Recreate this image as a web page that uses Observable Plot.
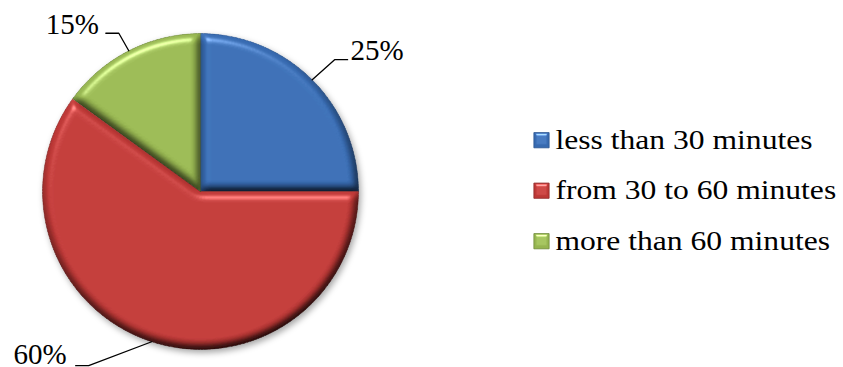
<!DOCTYPE html>
<html><head><meta charset="utf-8">
<script src="https://cdn.jsdelivr.net/npm/d3@7"></script>
<script src="https://cdn.jsdelivr.net/npm/@observablehq/plot@0.6"></script>
<style>body{margin:0;background:#fff}</style>
</head><body><div id="chart"></div>
<script>
const categories = ["less than 30 minutes", "from 30 to 60 minutes", "more than 60 minutes"];
const values = [25, 60, 15];
const valueLabels = ["25%", "60%", "15%"];
const colors = ["#376AB0", "#BD3836", "#96B550"];
const strokeColors = ["#2B5590", "#8E2A28", "#6E8A38"];

// layout (not data)
const W = 843, H = 367, CX = 200, CY = 191, R = 158;
const FONT = "Liberation Serif, Times New Roman, serif";
const labelLayout = [
  {f: 1.19, da: 0.5, dir: 1, gap: 3, dy: -9},
  {f: 1.31, da: 14.7, dir: -1, gap: 9, dy: -11},
  {f: 1.127, da: -0.3, dir: -1, gap: 7, dy: -9}
];
const legendX = 541, legendTextX = 555, legendY0 = 139.7, legendStep = 50.5;

const total = d3.sum(values);
let acc = 0;
const slices = categories.map((c, i) => {
  const a0 = acc / total * 2 * Math.PI; acc += values[i];
  const a1 = acc / total * 2 * Math.PI;
  return {cat: c, i, value: values[i], label: valueLabels[i], a0, a1, mid: (a0 + a1) / 2};
});
const polar = (a, r) => [CX + r * Math.sin(a), CY - r * Math.cos(a)];

const slicePts = slices.flatMap(s => {
  const pts = [{cat: s.cat, x: CX, y: CY}];
  const n = Math.max(2, Math.ceil((s.a1 - s.a0) / (Math.PI / 180)));
  for (let k = 0; k <= n; k++) {
    const [x, y] = polar(s.a0 + (s.a1 - s.a0) * k / n, R);
    pts.push({cat: s.cat, x, y});
  }
  return pts;
});

const leaderPts = [], labelPts = [];
slices.forEach(s => {
  const L = labelLayout[s.i];
  const [ex, ey] = polar(s.mid, R);
  const [bx, by] = polar(s.mid + L.da * Math.PI / 180, R * L.f);
  const endX = bx + L.dir * 13;
  leaderPts.push({cat: s.cat, x: ex, y: ey}, {cat: s.cat, x: bx, y: by}, {cat: s.cat, x: endX, y: by});
  labelPts.push({label: s.label, x: endX + L.dir * L.gap, y: by + L.dy, anchor: L.dir > 0 ? "start" : "end"});
});

const legend = categories.map((c, i) => ({cat: c, y: legendY0 + i * legendStep}));

const svg = Plot.plot({
  width: W, height: H, margin: 0,
  x: {domain: [0, W], range: [0, W], axis: null},
  y: {domain: [0, H], range: [0, H], axis: null},
  color: {domain: categories, range: colors},
  marks: [
    Plot.line(slicePts, {x: "x", y: "y", z: "cat", fill: "cat", stroke: "cat", strokeWidth: 0.8, curve: "linear-closed"}),
    Plot.line(leaderPts, {x: "x", y: "y", z: "cat", stroke: "black", strokeWidth: 1.3}),
    Plot.text(labelPts.filter(d => d.anchor === "start"), {x: "x", y: "y", text: "label", textAnchor: "start", fontSize: 29, fontFamily: FONT, fill: "black"}),
    Plot.text(labelPts.filter(d => d.anchor === "end"), {x: "x", y: "y", text: "label", textAnchor: "end", fontSize: 29, fontFamily: FONT, fill: "black"}),
    Plot.dot(legend, {x: () => legendX, y: "y", symbol: "square", r: 8.6, fill: "cat", stroke: "cat", strokeWidth: 0.8}),
    Plot.text(legend, {x: () => legendTextX, y: "y", text: "cat", textAnchor: "start", fontSize: 27, fontFamily: FONT, fill: "black"})
  ]
});

document.getElementById("chart").appendChild(svg);
const s = d3.select(svg);
s.insert("defs", ":first-child").html(`
  <filter id="bevel" x="-10%" y="-10%" width="120%" height="120%" color-interpolation-filters="sRGB">
    <feGaussianBlur in="SourceAlpha" stdDeviation="4" result="blur"/>
    <feDiffuseLighting in="blur" surfaceScale="6" diffuseConstant="1.16" lighting-color="#ffffff" result="diff">
      <feDistantLight azimuth="250" elevation="60"/>
    </feDiffuseLighting>
    <feComposite in="SourceGraphic" in2="diff" operator="arithmetic" k1="1" k2="0" k3="0" k4="0" result="shaded"/>
    <feSpecularLighting in="blur" surfaceScale="6" specularConstant="0.9" specularExponent="30" lighting-color="#ffffff" result="spec">
      <feDistantLight azimuth="250" elevation="45"/>
    </feSpecularLighting>
    <feComposite in="spec" in2="SourceAlpha" operator="in" result="specOut"/>
    <feComposite in="shaded" in2="specOut" operator="arithmetic" k1="0" k2="1" k3="0.4" k4="0" result="lit"/>
    <feComposite in="lit" in2="SourceAlpha" operator="in"/>
  </filter>
  <filter id="bevelSmall" x="-20%" y="-20%" width="140%" height="140%" color-interpolation-filters="sRGB">
    <feGaussianBlur in="SourceAlpha" stdDeviation="1.5" result="blur"/>
    <feSpecularLighting in="blur" surfaceScale="3" specularConstant="0.8" specularExponent="20" lighting-color="#ffffff" result="spec">
      <feDistantLight azimuth="270" elevation="40"/>
    </feSpecularLighting>
    <feComposite in="spec" in2="SourceAlpha" operator="in" result="specOut"/>
    <feComposite in="SourceGraphic" in2="specOut" operator="arithmetic" k1="0" k2="1" k3="0.6" k4="0"/>
  </filter>
  <filter id="shadow" x="-10%" y="-10%" width="125%" height="125%">
    <feDropShadow dx="2" dy="3" stdDeviation="3" flood-color="#000" flood-opacity="0.35"/>
  </filter>`);
const lineGroups = s.selectAll('g[aria-label="line"]').nodes();
const sliceGroup = d3.select(lineGroups[0]);
sliceGroup.attr("filter", "url(#shadow)").selectAll("path").each(function(d, k) {
  d3.select(this).attr("filter", "url(#bevel)").attr("stroke", strokeColors[k]);
});
const dotGroup = s.select('g[aria-label="dot"]');
dotGroup.selectAll("path").each(function(d, k) {
  d3.select(this).attr("filter", "url(#bevelSmall)").attr("stroke", strokeColors[k]);
});
// widen legend text to match reference glyph widths
const textGroups = s.selectAll('g[aria-label="text"]').nodes();
const lt = d3.select(textGroups[textGroups.length - 1]).selectAll("text");
const first = lt.node();
if (first) {
  const ratio = 257 / first.getComputedTextLength();
  lt.each(function() {
    const w = this.getComputedTextLength();
    this.setAttribute("textLength", w * ratio);
    this.setAttribute("lengthAdjust", "spacingAndGlyphs");
  });
}
</script>
</body></html>
